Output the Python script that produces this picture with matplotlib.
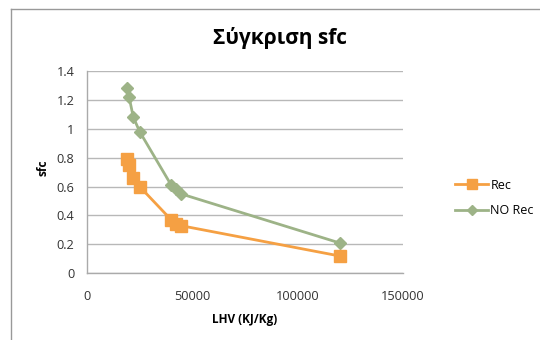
import matplotlib
matplotlib.use("Agg")
import matplotlib.pyplot as plt
from matplotlib.lines import Line2D

plt.rcParams['font.family'] = ['Open Sans', 'DejaVu Sans']

lhv = [19000, 20000, 22000, 25000, 40000, 42500, 44500, 120000]
sfc_rec = [0.79, 0.75, 0.66, 0.60, 0.37, 0.34, 0.33, 0.12]
sfc_norec = [1.28, 1.22, 1.08, 0.98, 0.61, 0.58, 0.55, 0.21]
series_names = ["Rec", "NO Rec"]
yticks = [0, 0.2, 0.4, 0.6, 0.8, 1, 1.2, 1.4]
ytick_labels = ["0", "0.2", "0.4", "0.6", "0.8", "1", "1.2", "1.4"]
xticks = [0, 50000, 100000, 150000]
xtick_labels = ["0", "50000", "100000", "150000"]

c_rec = "#F5A043"
c_norec = "#9DB387"

fig = plt.figure(figsize=(5.4, 3.4), dpi=100)
ax = fig.add_axes([0.161, 0.196, 0.585, 0.596])

ax.plot(lhv, sfc_norec, color=c_norec, lw=2.0, marker='D', ms=6.5, mec=c_norec, mfc=c_norec, label=series_names[1], zorder=3)
ax.plot(lhv, sfc_rec, color=c_rec, lw=2.0, marker='s', ms=8, mec=c_rec, mfc=c_rec, label=series_names[0], zorder=4)

ax.set_xlim(0, 150000)
ax.set_ylim(0, 1.4)
ax.set_yticks(yticks)
ax.set_yticklabels(ytick_labels)
ax.set_xticks(xticks)
ax.set_xticklabels(xtick_labels)
ax.tick_params(axis='both', length=0, labelsize=9.2, colors='#333333')
ax.tick_params(axis='y', pad=9)
ax.tick_params(axis='x', pad=12)
ax.grid(axis='y', color='#B8B8B8', lw=1.0)
ax.set_axisbelow(True)
for s in ['top', 'right']:
    ax.spines[s].set_visible(False)
for s in ['left', 'bottom']:
    ax.spines[s].set_color('#AAAAAA')
    ax.spines[s].set_linewidth(1.0)

ax.set_xlabel("LHV (KJ/Kg)", fontsize=8.5, fontweight='bold', labelpad=7)
fig.text(43/540, 1-168/340, "sfc", rotation=90, fontsize=8.5, fontweight='bold', ha='center', va='center')
fig.text(280/540, 1-38/340, "Σύγκριση sfc", fontsize=15, fontweight='bold', ha='center', va='center')

handles = [Line2D([], [], color=c_rec, lw=2.0, marker='s', ms=7, mec=c_rec),
           Line2D([], [], color=c_norec, lw=2.0, marker='D', ms=5, mec=c_norec)]
fig.legend(handles, series_names, loc='center left', bbox_to_anchor=(444/540, 1-198/340),
           frameon=False, fontsize=9, handlelength=2.6, handletextpad=0.2, labelspacing=1.0)

# chart frame lines (top and left)
fig.add_artist(Line2D([11/540, 1], [1-9/340, 1-9/340], color='#999999', lw=1.0, transform=fig.transFigure))
fig.add_artist(Line2D([11/540, 11/540], [0, 1-9/340], color='#999999', lw=1.0, transform=fig.transFigure))

fig.savefig("out.png", dpi=100)
